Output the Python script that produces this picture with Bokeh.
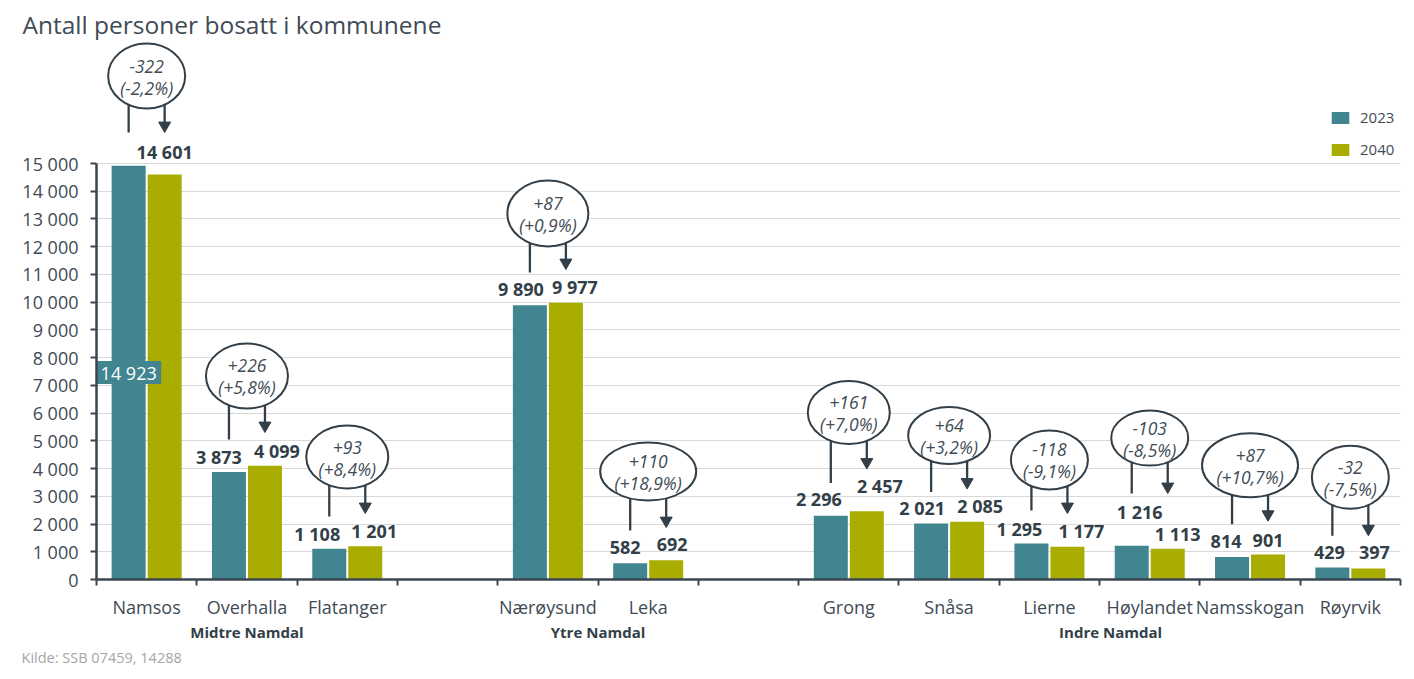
import numpy as np
from bokeh.plotting import figure
from bokeh.models import (Range1d, FixedTicker, CustomJSTickFormatter, Legend,
                          LegendItem, LinearAxis, Title)
from bokeh.core.properties import value
from bokeh.embed import file_html
from bokeh.resources import INLINE

# ---------------- data ----------------
title_text = "Antall personer bosatt i kommunene"
source_text = "Kilde: SSB 07459, 14288"
years = ["2023", "2040"]
groups = ["Midtre Namdal", "Ytre Namdal", "Indre Namdal"]
midtre = ["Namsos", "Overhalla", "Flatanger"]
ytre = ["Nærøysund", "Leka"]
indre = ["Grong", "Snåsa", "Lierne", "Høylandet", "Namsskogan", "Røyrvik"]
pop_2023 = [14923, 3873, 1108, 9890, 582, 2296, 2021, 1295, 1216, 814, 429]
pop_2040 = [14601, 4099, 1201, 9977, 692, 2457, 2085, 1177, 1113, 901, 397]
y_ticks = list(range(0, 15001, 1000))

# ---------------- layout / style ----------------
W, H = 1414, 679
B_LEFT, B_RIGHT, B_BOTTOM, B_TOP = 96, 14, 100, 40
FRAME_H = H - B_BOTTOM - B_TOP
UPP = 15000 / 416.0          # data units per screen pixel (vertical)
SLOT_PX = (W - B_LEFT - B_RIGHT) / 13.0
XPP = 1.0 / SLOT_PX          # data units per pixel (horizontal)
BAR_OFF = 18 * XPP
BAR_W = 34 * XPP

TEAL = "#40858F"
OLIVE = "#A8AD00"
DARK = "#333F48"
AXC = "#3B4650"
TXT = "#404B55"
GRID = "#D9D9D9"
FONT = "Open Sans"

# label offsets (px) for value labels: dx, height above bar top
lab23_dx = [0, -10, -12, -9, -5, -12, -9, -12, 8, -6, -3]
lab23_up = [0, 15, 15, 16, 16, 17, 15, 15, 34, 15, 15]
lab40_dx = [0, 12, 9, 9, 6, 13, 13, 14, 10, 0, 6]
lab40_up = [23, 15, 15, 16, 16, 25, 16, 16, 15, 14, 16]
# callouts: ellipse centre (data units), size (px), connector lengths below ellipse bottom (px)
call_y = [18155, 7338, 4417, 13197, 3894, 6022, 5192, 4309, 5102, 4121, 3689]
call_w = [77, 82, 82, 81, 96, 82, 82, 77, 77, 96, 77]
call_h = [65, 65, 63, 66, 58, 63, 57, 59, 55, 64, 63]
left_len = [24, 31, 28, 26, 30, 39, 28, 21, 28, 27, 27]
arrow_len = [24, 24, 25, 23, 27, 25, 25, 24, 28, 24, 27]
group_dx = [0, 0, 11]

# ---------------- derived positions ----------------
members = [midtre, ytre, indre]
munis, slots, group_centers = [], [], []
s = 0
for mem in members:
    start = s
    for m in mem:
        munis.append(m)
        slots.append(s)
        s += 1
    group_centers.append((start + s - 1) / 2.0)
    s += 1
slots = np.array(slots, dtype=float)
v23 = np.array(pop_2023, dtype=float)
v40 = np.array(pop_2040, dtype=float)
group_ticks = [gc + dx * XPP for gc, dx in zip(group_centers, group_dx)]

def fmt(v):
    return f"{int(v):,}".replace(",", " ")

def fmt_pct(q):
    return f"{q:+.1f}".replace(".", ",")

p = figure(width=W, height=H, output_backend="svg", toolbar_location=None,
           x_range=Range1d(-0.5, 12.5), y_range=Range1d(0, FRAME_H * UPP),
           min_border_left=B_LEFT, min_border_right=B_RIGHT,
           min_border_bottom=B_BOTTOM, min_border_top=B_TOP)
p.outline_line_color = None
p.background_fill_color = "white"
p.border_fill_color = "white"

# title
p.title.text = title_text
p.title.align = "left"
p.title.offset = -74
p.title.standoff = 0
p.title.text_font = FONT
p.title.text_font_size = "24.5px"
p.title.text_font_style = "normal"
p.title.text_color = TXT

# grid
p.xgrid.visible = False
p.ygrid.ticker = FixedTicker(ticks=y_ticks)
p.ygrid.grid_line_color = GRID
p.ygrid.grid_line_width = 1

# y axis
ya = p.yaxis[0]
ya.ticker = FixedTicker(ticks=y_ticks)
ya.bounds = (0, 15000)
ya.formatter = CustomJSTickFormatter(code="return tick.toFixed(0).replace(/\\B(?=(\\d{3})+(?!\\d))/g, ' ');")
ya.axis_line_color = AXC
ya.axis_line_width = 2.5
ya.major_tick_line_color = AXC
ya.major_tick_line_width = 2
ya.major_tick_out = 6
ya.major_tick_in = 0
ya.minor_tick_line_color = None
ya.major_label_text_font = FONT
ya.major_label_text_font_size = "18px"
ya.major_label_text_color = TXT
ya.major_label_standoff = 12

# x axis (municipalities)
xa = p.xaxis[0]
xa.ticker = FixedTicker(ticks=list(slots), minor_ticks=[i - 0.5 for i in range(14)])
xa.major_label_overrides = {int(sl): m for sl, m in zip(slots, munis)}
xa.axis_line_color = AXC
xa.axis_line_width = 2.5
xa.major_tick_line_color = None
xa.major_tick_out = 0
xa.major_tick_in = 0
xa.minor_tick_line_color = AXC
xa.minor_tick_line_width = 2
xa.minor_tick_out = 6
xa.minor_tick_in = 0
xa.major_label_text_font = FONT
xa.major_label_text_font_size = "18px"
xa.major_label_text_color = TXT
xa.major_label_standoff = 9

# second axis (regions)
ga = LinearAxis(ticker=FixedTicker(ticks=group_ticks),
                formatter=CustomJSTickFormatter(
                    args=dict(c=group_ticks, n=groups),
                    code="let b=0; for (let i=0;i<c.length;i++){ if (Math.abs(c[i]-tick)<Math.abs(c[b]-tick)) b=i; } return n[b];"))
ga.axis_line_color = None
ga.major_tick_line_color = None
ga.minor_tick_line_color = None
ga.major_tick_out = 0
ga.major_tick_in = 0
ga.major_label_standoff = 0
ga.major_label_text_font = FONT
ga.major_label_text_font_size = "15px"
ga.major_label_text_font_style = "bold"
ga.major_label_text_color = DARK
p.add_layout(ga, "below")

# source
p.add_layout(Title(text=source_text, align="left", offset=-75, text_font=FONT,
                   text_font_size="14.5px", text_font_style="normal",
                   text_color="#A6A6A6", standoff=2), "below")

# bars
r23 = p.vbar(x=slots - BAR_OFF, top=v23, width=BAR_W, fill_color=TEAL, line_color=None)
r40 = p.vbar(x=slots + BAR_OFF, top=v40, width=BAR_W, fill_color=OLIVE, line_color=None)

# value labels (2023) - the first one sits inside its bar in a teal box
inside = [0]
above = [i for i in range(len(munis)) if i not in inside]
p.text(x=[slots[i] - BAR_OFF + lab23_dx[i] * XPP for i in above],
       y=[v23[i] + lab23_up[i] * UPP for i in above],
       text=[fmt(v23[i]) for i in above],
       text_font=value(FONT), text_font_style="bold", text_font_size="18px",
       text_color=DARK, text_align="center", text_baseline="middle")
p.rect(x=[slots[i] - BAR_OFF for i in inside], y=[v23[i] / 2 for i in inside],
       width=65, height=23, width_units="screen", height_units="screen",
       fill_color=TEAL, line_color=None)
p.text(x=[slots[i] - BAR_OFF for i in inside], y=[v23[i] / 2 for i in inside],
       text=[fmt(v23[i]) for i in inside],
       text_font=value(FONT), text_font_size="18px",
       text_color="white", text_align="center", text_baseline="middle")
# value labels (2040)
p.text(x=slots + BAR_OFF + np.array(lab40_dx) * XPP,
       y=v40 + np.array(lab40_up) * UPP,
       text=[fmt(v) for v in v40],
       text_font=value(FONT), text_font_style="bold", text_font_size="18px",
       text_color=DARK, text_align="center", text_baseline="middle")

# callouts
cy = np.array(call_y, dtype=float)
bottom_px = np.array(call_h) / 2.0
left_end = cy - (bottom_px + np.array(left_len)) * UPP
arrow_end = cy - (bottom_px + np.array(arrow_len)) * UPP
HEAD = 12
p.segment(x0=slots - BAR_OFF, y0=cy, x1=slots - BAR_OFF, y1=left_end,
          line_color=DARK, line_width=2.3)
p.segment(x0=slots + BAR_OFF, y0=cy, x1=slots + BAR_OFF, y1=arrow_end + (HEAD - 2) * UPP,
          line_color=DARK, line_width=2.3)
p.scatter(x=slots + BAR_OFF, y=arrow_end + 0.5774 * HEAD * UPP,
          marker="inverted_triangle", size=HEAD, fill_color=DARK, line_color=DARK,
          line_width=1)
p.ellipse(x=slots, y=cy, width=call_w, height=call_h, width_units="screen",
          height_units="screen", fill_color="white", line_color=DARK, line_width=2)
diff = v40 - v23
pct = diff / v23 * 100
p.text(x=slots, y=cy + 10 * UPP, text=[f"{int(d):+d}" for d in diff],
       text_font=value(FONT), text_font_style="italic", text_font_size="17.5px",
       text_color=TXT, text_align="center", text_baseline="middle")
p.text(x=slots, y=cy - 11.5 * UPP, text=[f"({fmt_pct(q)}%)" for q in pct],
       text_font=value(FONT), text_font_style="italic", text_font_size="17.5px",
       text_color=TXT, text_align="center", text_baseline="middle")

# legend
legend = Legend(items=[LegendItem(label=years[0], renderers=[r23]),
                       LegendItem(label=years[1], renderers=[r40])],
                location=(1233, 420), orientation="vertical",
                padding=0, margin=0, border_line_color=None,
                background_fill_alpha=0, glyph_width=22, glyph_height=15,
                label_height=15, label_standoff=9, spacing=12,
                label_text_font=FONT, label_text_font_size="15px",
                label_text_color=TXT)
p.add_layout(legend)

open("out.html", "w").write(file_html(p, INLINE))
